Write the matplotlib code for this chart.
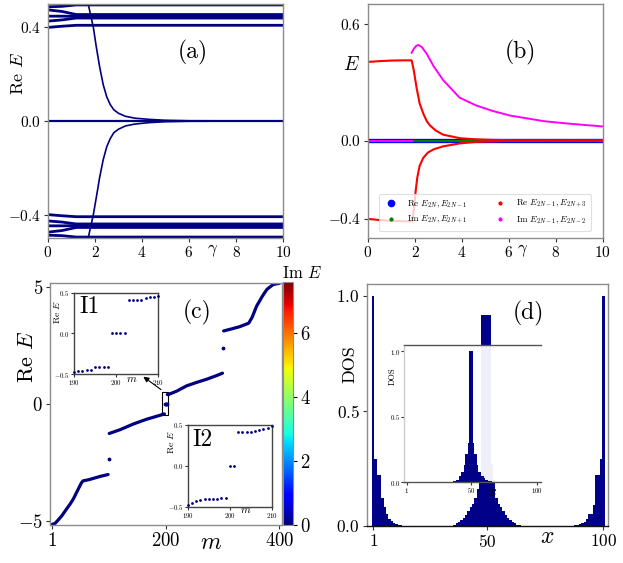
import numpy as np
import matplotlib
matplotlib.use('Agg')
import matplotlib.pyplot as plt
from matplotlib.lines import Line2D
from matplotlib.patches import Rectangle
from matplotlib.colors import Normalize
from matplotlib.cm import ScalarMappable

plt.rcParams['font.family'] = 'serif'
plt.rcParams['font.serif'] = ['cmr10', 'DejaVu Serif']
plt.rcParams['mathtext.fontset'] = 'cm'
plt.rcParams['axes.formatter.use_mathtext'] = True

# ---------------- data: panel (a) ----------------
a_band_gamma = [0, 0.6, 1.2, 10]
a_band_upper = [[0.400, 0.405, 0.409, 0.409],
                [0.427, 0.432, 0.440, 0.440],
                [0.448, 0.448, 0.447, 0.447],
                [0.475, 0.468, 0.455, 0.455],
                [0.488, 0.490, 0.496, 0.496]]
a_band_lower = [[-0.400, -0.405, -0.409, -0.409],
                [-0.427, -0.432, -0.440, -0.440],
                [-0.448, -0.448, -0.447, -0.447],
                [-0.475, -0.468, -0.455, -0.455],
                [-0.488, -0.490, -0.496, -0.496]]
a_zero_gamma = [0, 10]
a_zero_E = [0, 0]
a_diag_gamma = [1.71, 1.82, 1.93, 2.05, 2.2, 2.35, 2.5, 2.65, 2.8, 3.0, 3.3, 3.7, 4.3, 5.0, 6.0, 10]
a_diag_upper = [0.5, 0.45, 0.40, 0.32, 0.23, 0.155, 0.103, 0.07, 0.048, 0.033, 0.02, 0.012, 0.007, 0.003, 0.001, 0.0]
a_diag_lower = [-0.5, -0.45, -0.40, -0.33, -0.24, -0.165, -0.11, -0.075, -0.05, -0.035, -0.021, -0.013, -0.007, -0.003, -0.001, 0.0]

# ---------------- data: panel (b) ----------------
b_full_gamma = [0, 10]
b_blue_E = [0.005, -0.005]
b_green_gamma = [1.86, 10]
b_green_E = [0, 0]
b_mag0_gamma = [0, 1.86]
b_mag0_E = [0, 0]
b_mag_gamma = [1.86, 1.95, 2.05, 2.15, 2.3, 2.5, 2.8, 3.2, 3.9, 4.6, 5.3, 6.05, 7.5, 8.5, 10]
b_mag_E = [0.45, 0.47, 0.485, 0.49, 0.478, 0.445, 0.38, 0.31, 0.22, 0.18, 0.152, 0.128, 0.099, 0.087, 0.072]
b_redup_gamma = [0, 0.5, 1.0, 1.5, 1.86, 1.95, 2.07, 2.2, 2.36, 2.5, 2.64, 2.9, 3.2, 3.9, 4.6, 5.3, 6.5, 10]
b_redup_E = [0.403, 0.407, 0.41, 0.411, 0.411, 0.36, 0.27, 0.19, 0.137, 0.10, 0.077, 0.05, 0.03, 0.012, 0.006, 0.003, 0.001, 0.0]
b_redlo_gamma = [0, 0.5, 1.0, 1.5, 1.88, 1.95, 2.03, 2.1, 2.2, 2.35, 2.55, 2.8, 3.2, 3.9, 4.6, 6.0, 10]
b_redlo_E = [-0.402, -0.408, -0.412, -0.414, -0.415, -0.36, -0.26, -0.19, -0.13, -0.09, -0.062, -0.045, -0.03, -0.015, -0.007, -0.002, 0.0]
b_labels = ['Re $E_{2N}, E_{2N-1}$', 'Im $E_{2N}, E_{2N+1}$',
            'Re $E_{2N-1}, E_{2N+3}$', 'Im $E_{2N-1}, E_{2N-2}$']

# ---------------- data: panel (c) ----------------
c_seg1_m = [1, 6, 12, 18, 26, 32, 38, 45, 52, 55, 65, 75, 85, 99]
c_seg1_E = [-5.12, -5.08, -4.92, -4.75, -4.47, -4.27, -4.04, -3.7, -3.36, -3.27, -3.22, -3.15, -3.08, -3.0]
c_seg2_m = [101, 120, 143, 167, 184, 191, 194, 195, 198]
c_seg2_E = [-1.25, -1.09, -0.85, -0.64, -0.52, -0.47, -0.45, -0.42, -0.42]
c_seg3_m = [203, 206, 207, 210, 220, 237, 255, 272, 290, 300]
c_seg3_E = [0.41, 0.41, 0.44, 0.46, 0.56, 0.78, 0.93, 1.06, 1.22, 1.32]
c_seg4_m = [302, 315, 330, 346, 352, 360, 370, 378, 389, 400]
c_seg4_E = [3.12, 3.2, 3.3, 3.45, 3.7, 4.18, 4.6, 4.89, 5.1, 5.15]
c_dot_m = [100, 199, 200, 201, 202, 301]
c_dot_E = [-2.34, 0, 0, 0, 0, 2.4]
c_imE = 0.0
i1_m = [190, 191, 192, 193, 194, 195, 196, 197, 198, 199, 200, 201, 202, 203, 204, 205, 206, 207, 208, 209, 210]
i1_E = [-0.47, -0.46, -0.46, -0.45, -0.45, -0.42, -0.42, -0.42, -0.42, 0, 0, 0, 0,
        0.41, 0.41, 0.41, 0.41, 0.44, 0.45, 0.45, 0.46]
i2_m = [190, 191, 192, 193, 194, 195, 196, 197, 198, 199, 200, 201, 202, 203, 204, 205, 206, 207, 208, 209, 210]
i2_E = [-0.48, -0.45, -0.43, -0.42, -0.41, -0.41, -0.40, -0.40, -0.39, -0.39, 0, 0,
        0.41, 0.414, 0.418, 0.42, 0.43, 0.44, 0.45, 0.46, 0.49]

# ---------------- data: panel (d) ----------------
d_left_sites = list(range(1, 14))
d_left_dos = [1.0, 0.29, 0.22, 0.22, 0.12, 0.08, 0.05, 0.03, 0.02, 0.012, 0.008, 0.005, 0.003]
d_right_sites = list(range(100, 87, -1))
d_right_dos = [1.0, 0.29, 0.22, 0.22, 0.09, 0.05, 0.05, 0.03, 0.015, 0.01, 0.006, 0.004, 0.003]
d_mid_sites = list(range(36, 65))
d_mid_dos = [0.005, 0.01, 0.015, 0.025, 0.035, 0.045, 0.066, 0.08, 0.095, 0.12, 0.16, 0.22,
             0.916, 0.916, 0.916, 0.916, 0.27, 0.2, 0.12, 0.095, 0.08, 0.066, 0.045, 0.035,
             0.025, 0.015, 0.01, 0.005, 0.003]
d_in_sites = list(range(37, 67))
d_in_dos = [0.008, 0.01, 0.015, 0.02, 0.045, 0.045, 0.08, 0.08, 0.13, 0.215, 0.215, 0.3,
            1.0, 1.0, 1.0, 0.3, 0.215, 0.215, 0.13, 0.08, 0.08, 0.045, 0.045, 0.03, 0.02,
            0.015, 0.012, 0.01, 0.008, 0.005]

# ---------------- figure ----------------
W, H = 623, 563
fig = plt.figure(figsize=(W / 100, H / 100), dpi=100)
NAVY = '#000080'
SP = '#8c8c8c'


def ax_px(l, t, r, b):
    return fig.add_axes([l / W, 1 - b / H, (r - l) / W, (b - t) / H])


def ftxt(x, y, s, **kw):
    ha = kw.pop('ha', 'center')
    va = kw.pop('va', 'center')
    fig.text(x / W, 1 - y / H, s, ha=ha, va=va, **kw)


def style(ax, lsize, color=SP, length=3, pad=2):
    for s in ax.spines.values():
        s.set_color(color)
        s.set_linewidth(1.0)
    ax.tick_params(direction='out', length=length, width=0.8, pad=pad,
                   labelsize=lsize, color='#333333')


# (a)
ax = ax_px(48, 4, 283, 238)
for vals in a_band_upper + a_band_lower:
    ax.plot(a_band_gamma, vals, color=NAVY, lw=2.0)
ax.plot(a_zero_gamma, a_zero_E, color=NAVY, lw=1.6)
ax.plot(a_diag_gamma, a_diag_upper, color=NAVY, lw=1.2)
ax.plot(a_diag_gamma, a_diag_lower, color=NAVY, lw=1.2)
ax.set_xlim(0, 10)
ax.set_ylim(-0.5, 0.5)
ax.set_xticks([0, 2, 4, 6, 8, 10])
ax.set_yticks([-0.4, 0.0, 0.4])
style(ax, 11)
ftxt(18, 73, 'Re $E$', rotation=90, fontsize=13)
ftxt(213, 251, r'$\gamma$', fontsize=12)
ftxt(193, 52, '(a)', fontsize=17)

# (b)
ax = ax_px(368, 4, 602.7, 238)
for e in b_blue_E:
    ax.plot(b_full_gamma, [e, e], color='blue', lw=2.4)
ax.plot(b_green_gamma, b_green_E, color='green', lw=1.6)
ax.plot(b_mag0_gamma, b_mag0_E, color='magenta', lw=1.4)
ax.plot(b_mag_gamma, b_mag_E, color='magenta', lw=1.4)
ax.plot(b_redup_gamma, b_redup_E, color='red', lw=1.5)
ax.plot(b_redlo_gamma, b_redlo_E, color='red', lw=1.5)
ax.set_xlim(0, 10)
ax.set_ylim(-0.5, 0.7)
ax.set_xticks([0, 2, 4, 6, 8, 10])
ax.set_yticks([-0.4, 0.0, 0.6])
style(ax, 11)
handles = [Line2D([], [], ls='none', marker='o', ms=4.5, color='blue'),
           Line2D([], [], ls='none', marker='o', ms=2, color='green'),
           Line2D([], [], ls='none', marker='o', ms=2, color='red'),
           Line2D([], [], ls='none', marker='o', ms=2, color='magenta')]
leg = ax.legend(handles, b_labels, loc='lower center', bbox_to_anchor=(0.5, 0.012),
                ncol=2, fontsize=6.5, framealpha=0.8, columnspacing=3.0,
                handletextpad=1.0, borderpad=0.5, labelspacing=0.45, handlelength=1.5)
leg.get_frame().set_edgecolor('#d8d8d8')
leg.get_frame().set_linewidth(0.8)
ftxt(351, 65, '$E$', fontsize=14)
ftxt(523, 251, r'$\gamma$', fontsize=12)
ftxt(520, 52, '(b)', fontsize=17)

# (c)
cmap = plt.get_cmap('jet')
norm = Normalize(0, 7.6)
ccol = cmap(norm(c_imE))
ax = ax_px(50, 283.3, 281.7, 525)
for mm, ee in [(c_seg1_m, c_seg1_E), (c_seg2_m, c_seg2_E), (c_seg3_m, c_seg3_E), (c_seg4_m, c_seg4_E)]:
    ax.plot(mm, ee, color=ccol, lw=2.3, solid_capstyle='round')
ax.scatter(c_dot_m, c_dot_E, s=3, color=ccol, zorder=3)
ax.add_patch(Rectangle((194.4, -0.45), 10.5, 0.97, fill=False, edgecolor='black', lw=0.8))
ax.annotate('', xy=(157, 1.24), xytext=(196, 0.55),
            arrowprops=dict(arrowstyle='-|>', color='black', lw=0.8, mutation_scale=8))
ax.set_xlim(-3, 404)
ax.set_ylim(-5.15, 5.15)
ax.set_xticks([1, 200, 400])
ax.set_yticks([-5, 0, 5])
style(ax, 13.5)
ftxt(27.5, 357, 'Re $E$', rotation=90, fontsize=16)
ftxt(211, 543, '$m$', fontsize=17)
ftxt(197, 312, '(c)', fontsize=17)

cax = ax_px(283.3, 282, 293.3, 525)
cb = fig.colorbar(ScalarMappable(norm=norm, cmap=cmap), cax=cax)
cb.set_ticks([0, 2, 4, 6])
cb.outline.set_edgecolor(SP)
cax.tick_params(labelsize=13.5, length=3, pad=2, width=0.8)
ftxt(282, 273, 'Im $E$', fontsize=12, ha='left')

for (l, t, r, b), mm, ee, name, nxy, rxy, mxy in [
        ((74, 292.7, 158.3, 374), i1_m, i1_E, 'I1', (90, 306.5), (57, 312), (131.7, 379)),
        ((187.7, 425, 271.7, 506.7), i2_m, i2_E, 'I2', (202.5, 440), (171, 442), (246, 510))]:
    axi = ax_px(l, t, r, b)
    axi.scatter(mm, ee, s=4, color=ccol, clip_on=False, zorder=3, linewidths=0)
    axi.set_xlim(190, 210)
    axi.set_ylim(-0.5, 0.5)
    axi.set_xticks([190, 200, 210])
    axi.set_yticks([-0.5, 0.0, 0.5])
    style(axi, 5, color='#444444', length=2, pad=1)
    ftxt(nxy[0], nxy[1], name, fontsize=17)
    ftxt(rxy[0], rxy[1], 'Re $E$', rotation=90, fontsize=7)
    ftxt(mxy[0], mxy[1], '$m$', fontsize=8)

# (d)
ax = ax_px(366.7, 284, 608.3, 525.7)
for ss, dd in [(d_left_sites, d_left_dos), (d_right_sites, d_right_dos), (d_mid_sites, d_mid_dos)]:
    ax.bar(ss, dd, width=1.0, color='#000088', linewidth=0)
ax.set_xlim(-1.8, 102.1)
ax.set_ylim(0, 1.05)
ax.set_xticks([1, 50, 100])
ax.set_yticks([0.0, 0.5, 1.0])
style(ax, 12.5)
ax.spines['bottom'].set_color('#111111')
ftxt(350, 364, 'DOS', rotation=90, fontsize=13)
ftxt(546.7, 537, '$x$', fontsize=17)
ftxt(528, 313, '(d)', fontsize=17)

axd = ax_px(404.3, 345, 540.7, 482.3)
axd.set_facecolor((1, 1, 1, 0.94))
axd.bar(d_in_sites, d_in_dos, width=1.0, color='#000088', linewidth=0)
axd.set_xlim(-1, 103)
axd.set_ylim(0, 1.046)
axd.set_xticks([1, 50, 100])
axd.set_yticks([0.0, 0.5, 1.0])
style(axd, 5, color='#555555', length=2, pad=1)
axd.spines['left'].set_color('#cccccc')
axd.spines['right'].set_visible(False)
ftxt(393, 376, 'DOS', rotation=90, fontsize=6)
ftxt(492.5, 492, '$x$', fontsize=11)

fig.savefig('out.png', dpi=100)
